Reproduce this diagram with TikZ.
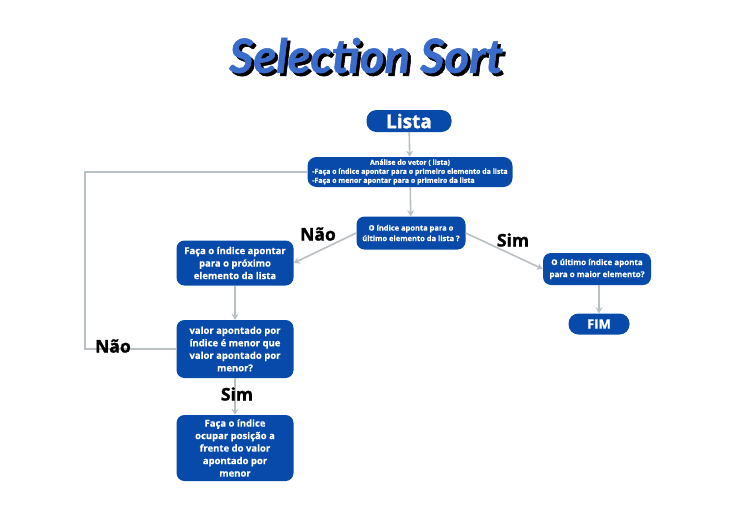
\documentclass[tikz,border=0pt]{standalone}
\usepackage{fontspec}
\setmainfont{Open Sans}
\newfontfamily\titlefont{Lato Bold Italic}[FakeBold=1.2]
\newfontfamily\boxfont{Open Sans Bold}[FakeBold=0.4]
\newfontfamily\heavyfont{Open Sans Bold}[FakeBold=1.4]
\usetikzlibrary{arrows.meta}
\definecolor{boxblue}{RGB}{8,74,170}
\definecolor{linegray}{RGB}{184,192,196}
\definecolor{titleblue}{RGB}{58,108,204}
\tikzset{
  box/.style={fill=boxblue, rounded corners=8pt, text=white, align=center, inner sep=1pt,
    font=\boxfont\fontsize{9.5}{12.5}\selectfont},
  pill/.style={box, rounded corners=10pt},
  conn/.style={draw=linegray, line width=1.6pt, -{Stealth[length=6pt,width=7pt]}},
  plain/.style={draw=linegray, line width=1.6pt},
  lbl/.style={font=\heavyfont\fontsize{17.5}{19}\selectfont, text=black, inner sep=0pt},
  ttl/.style={font=\titlefont\fontsize{47}{50}\selectfont, inner sep=0pt}
}
\begin{document}
\begin{tikzpicture}[x=1pt,y=-1pt]
\useasboundingbox (0,0) rectangle (732,517);
\fill[white] (0,0) rectangle (732,517);
% title (shadow and face in one text)
\node[ttl] (title) at (366,57)
  {\makebox[0pt][l]{\hspace{3pt}\raisebox{-3pt}{\color{black}Selection Sort}}{\color{titleblue}Selection Sort}};
% nodes
\node[pill, minimum width=85, minimum height=22, font=\heavyfont\fontsize{19}{21}\selectfont] (lista) at (409,121) {Lista};
\node[box, minimum width=205, minimum height=30, rounded corners=9pt, font=\boxfont\fontsize{7}{9}\selectfont] (analise) at (410,172)
  {\begin{tabular}{@{}l@{}}\multicolumn{1}{@{}c@{}}{Análise do vetor ( lista)}\\-Faça o índice apontar para o primeiro elemento da lista\\-Faça o menor apontar para o primeiro da lista\end{tabular}};
\node[box, minimum width=109, minimum height=33, font=\boxfont\fontsize{7.5}{10.5}\selectfont] (dec) at (411,233)
  {O índice aponta para o\\último elemento da lista ?};
\node[box, minimum width=117, minimum height=45] (prox) at (235,263)
  {Faça o índice apontar\\para o próximo\\elemento da lista};
\node[box, minimum width=117, minimum height=58] (valor) at (235,349)
  {valor apontado por\\índice é menor que\\valor apontado por\\menor?};
\node[box, minimum width=117, minimum height=66] (ocupar) at (235,448)
  {Faça o índice\\ocupar posição a\\frente do valor\\apontado por\\menor};
\node[box, minimum width=108, minimum height=32, font=\boxfont\fontsize{8}{12}\selectfont] (ultimo) at (597,269)
  {O último índice aponta\\para o maior elemento?};
\node[pill, minimum width=61, minimum height=21, font=\heavyfont\fontsize{13}{15}\selectfont] (fim) at (599,324) {FIM};
% connectors
\draw[conn] (lista) -- (analise);
\draw[conn] (analise) -- (dec);
\draw[conn] (dec.west) -- (prox.east);
\draw[conn] (dec.east) -- (ultimo.west);
\draw[conn] (prox) -- (valor);
\draw[conn] (valor) -- (ocupar);
\draw[conn] (ultimo.south -| fim) -- (fim);
\coordinate (loopc) at (85,172);
\draw[plain] (valor.west) -| (loopc) -- (analise.west);
% labels
\node[lbl] (nao1) at (318,234) {Não};
\node[lbl] (sim1) at (513,240) {Sim};
\node[lbl] (nao2) at (113,346) {Não};
\node[lbl] (sim2) at (237,394) {Sim};
\end{tikzpicture}
\end{document}
